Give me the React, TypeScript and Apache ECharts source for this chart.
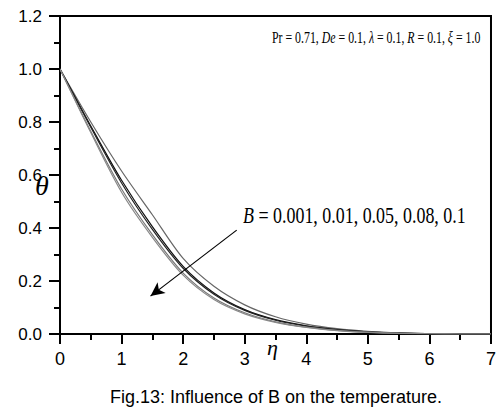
import React, { useEffect, useRef } from "react";
import * as echarts from "echarts";

const etaValues = [0, 0.5, 1, 1.5, 2, 2.5, 3, 3.5, 4, 4.5, 5, 5.5, 6, 6.5, 7];
const bLabels = ["B=0.001", "B=0.01", "B=0.05", "B=0.08", "B=0.1"];
const thetaB0001 = [1, 0.8, 0.615, 0.45, 0.285, 0.18, 0.11, 0.065, 0.037, 0.02, 0.01, 0.004, 0.001, 0, 0];
const thetaB001 = [1, 0.785, 0.58, 0.405, 0.255, 0.155, 0.092, 0.054, 0.031, 0.017, 0.008, 0.003, 0.001, 0, 0];
const thetaB005 = [1, 0.78, 0.57, 0.395, 0.248, 0.15, 0.089, 0.052, 0.03, 0.016, 0.008, 0.003, 0.001, 0, 0];
const thetaB008 = [1, 0.765, 0.547, 0.375, 0.23, 0.136, 0.08, 0.046, 0.026, 0.014, 0.007, 0.003, 0.001, 0, 0];
const thetaB01 = [1, 0.76, 0.535, 0.365, 0.222, 0.13, 0.076, 0.044, 0.025, 0.013, 0.006, 0.002, 0.001, 0, 0];
const seriesValues = [thetaB0001, thetaB001, thetaB005, thetaB008, thetaB01];
const lineColors = ["#666", "#111", "#222", "#777", "#888"];
const yTickValues = [0, 0.2, 0.4, 0.6, 0.8, 1.0, 1.2];
const arrowFrom = [2.87, 0.392];
const arrowTo = [1.47, 0.143];

export default function App() {
  const ref = useRef<HTMLDivElement>(null);
  useEffect(() => {
    if (!ref.current) return;
    const chart = echarts.init(ref.current, null, { renderer: "svg" });
    const series: any[] = seriesValues.map((vals, i) => ({
      name: bLabels[i],
      type: "line",
      data: etaValues.map((e, j) => [e, vals[j]]),
      smooth: 0.3,
      showSymbol: false,
      lineStyle: { color: lineColors[i], width: 1.2 },
      z: 3,
    }));
    series[0].markLine = {
      silent: true,
      symbol: ["none", "arrow"],
      symbolSize: [10, 14],
      label: { show: false },
      lineStyle: { color: "#000", width: 1.2, type: "solid" },
      data: [[{ coord: arrowFrom }, { coord: arrowTo }]],
    };
    series.push({
      type: "custom",
      name: "yTicks",
      silent: true,
      clip: false,
      z: 50,
      zlevel: 0,
      data: yTickValues.map((v) => [0, v]),
      renderItem: (_params: any, api: any) => {
        const p = api.coord([0, api.value(1)]);
        return {
          type: "rect",
          shape: { x: p[0] - 11, y: p[1] - 1, width: 11, height: 2 },
          style: { fill: "#000" },
          z2: 100,
        };
      },
    });
    const tickStyle = { color: "#000", width: 2 };
    chart.setOption({
      animation: false,
      grid: {
        left: 60,
        right: 5,
        top: 16,
        bottom: 76,
        show: true,
        borderColor: "#000",
        borderWidth: 2,
        containLabel: false,
      },
      xAxis: {
        type: "value",
        min: 0,
        max: 7,
        interval: 1,
        axisLine: { show: true, onZero: false, lineStyle: { color: "#000", width: 2 } },
        axisTick: { show: true, inside: false, length: 10, lineStyle: tickStyle },
        minorTick: { show: true, splitNumber: 2, length: 6, lineStyle: tickStyle },
        splitLine: { show: false },
        axisLabel: {
          color: "#000",
          fontSize: 18,
          fontFamily: "Liberation Sans",
          margin: 16,
          formatter: (v: number) => String(v),
        },
      },
      yAxis: {
        type: "value",
        position: "left",
        min: 0,
        max: 1.2,
        interval: 0.2,
        axisLine: { show: true, onZero: false, lineStyle: { color: "#000", width: 2 } },
        axisTick: { show: true, inside: false, length: 10, lineStyle: tickStyle },
        minorTick: { show: true, splitNumber: 2, length: 6, lineStyle: tickStyle },
        splitLine: { show: false },
        axisLabel: {
          color: "#000",
          fontSize: 17,
          fontFamily: "Liberation Sans",
          margin: 18,
          formatter: (v: number) => v.toFixed(1),
        },
      },
      graphic: [
        {
          type: "text",
          x: 35,
          y: 171,
          style: { text: "θ", font: 'italic 28px "Liberation Serif"', fill: "#000" },
        },
        {
          type: "text",
          x: 267,
          y: 336,
          style: { text: "η", font: 'italic 22px "Liberation Serif"', fill: "#000" },
        },
        {
          type: "text",
          x: 272,
          y: 29,
          scaleX: 0.74,
          style: {
            text: "Pr = 0.71, {i|De} = 0.1, {i|λ} = 0.1, {i|R} = 0.1, {i|ξ} = 1.0",
            font: '16px "Liberation Serif"',
            fill: "#000",
            rich: { i: { fontStyle: "italic", fontFamily: "Liberation Serif", fontSize: 16 } },
          },
        },
        {
          type: "text",
          x: 243,
          y: 204,
          scaleX: 0.78,
          style: {
            text: "{i|B} = 0.001, 0.01, 0.05, 0.08, 0.1",
            font: '23px "Liberation Serif"',
            fill: "#000",
            rich: { i: { fontStyle: "italic", fontFamily: "Liberation Serif", fontSize: 23 } },
          },
        },
        {
          type: "text",
          x: 276,
          y: 397,
          style: {
            text: "Fig.13: Influence of B on the temperature.",
            font: '18px "Liberation Sans"',
            fill: "#000",
            align: "center",
            verticalAlign: "middle",
          },
        },
      ],
      series,
    });
    return () => chart.dispose();
  }, []);
  return (
    <div
      ref={ref}
      style={{ position: "fixed", left: 0, top: 0, width: 499, height: 410, background: "#fff" }}
    />
  );
}
